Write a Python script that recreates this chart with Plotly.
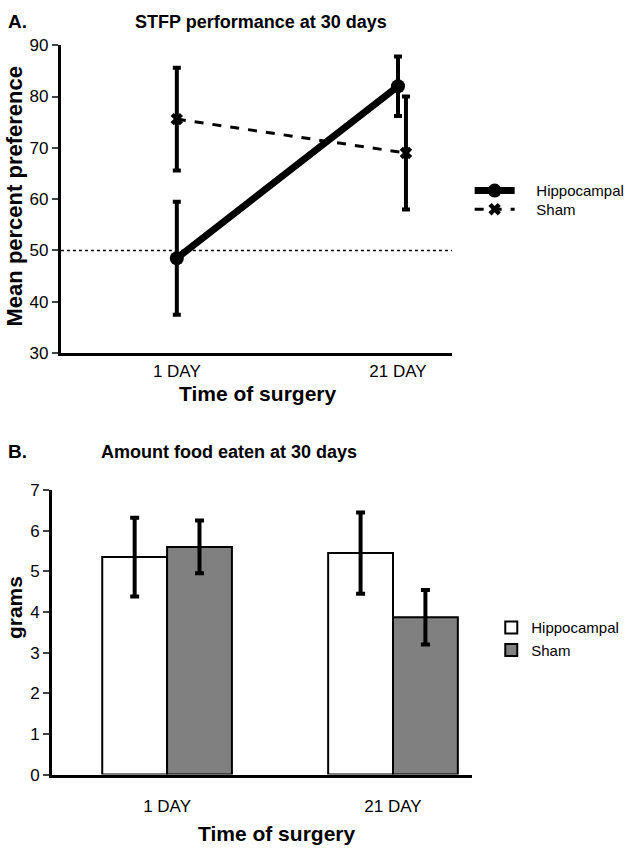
import plotly.graph_objects as go

# ---- data ----
days = ["1 DAY", "21 DAY"]
hipp_pref = [48.5, 82.0]
hipp_pref_err = [11.0, 5.8]
sham_pref = [75.6, 69.0]
sham_pref_err = [10.0, 11.0]
chance_level = 50

hipp_food = [5.35, 5.45]
hipp_food_err = [0.97, 1.0]
sham_food = [5.6, 3.87]
sham_food_err = [0.65, 0.67]

W, H = 630, 853
FONT = "Liberation Sans, Arial, sans-serif"
PAD = "\u00a0" * 4


def px(x):
    return x / W


def py(y):
    return 1 - y / H


pos = list(range(len(days)))
sham_shift = [0.0, 0.036]
sham_pos = [p + s for p, s in zip(pos, sham_shift)]

fig = go.Figure()

# Panel A
fig.add_trace(go.Scatter(
    x=pos, y=hipp_pref, name=PAD + "Hippocampal", mode="lines+markers",
    line=dict(color="black", width=7),
    marker=dict(symbol="circle", size=14, color="black"),
    error_y=dict(type="data", array=hipp_pref_err, color="black", thickness=4, width=4),
    xaxis="x", yaxis="y", legend="legend", showlegend=True,
))
fig.add_trace(go.Scatter(
    x=sham_pos, y=sham_pref, name=PAD + "Sham", mode="lines+markers",
    line=dict(color="black", width=3, dash="dash"),
    marker=dict(symbol="x", size=11, color="black"),
    error_y=dict(type="data", array=sham_pref_err, color="black", thickness=4, width=4),
    xaxis="x", yaxis="y", legend="legend3", showlegend=True,
))

# Panel B
fig.add_trace(go.Bar(
    x=pos, y=hipp_food, name="Hippocampal",
    marker=dict(color="white", line=dict(color="black", width=2)),
    error_y=dict(type="data", array=hipp_food_err, color="black", thickness=4, width=4.5),
    xaxis="x2", yaxis="y2", legend="legend2", showlegend=True,
))
fig.add_trace(go.Bar(
    x=pos, y=sham_food, name="Sham",
    marker=dict(color="#808080", line=dict(color="black", width=2)),
    error_y=dict(type="data", array=sham_food_err, color="black", thickness=4, width=4.5),
    xaxis="x2", yaxis="y2", legend="legend2", showlegend=True,
))

axis_common = dict(showgrid=False, zeroline=False, showline=True, linecolor="black",
                   linewidth=3, tickfont=dict(family=FONT, size=17, color="black"))

legend_common = dict(xanchor="left", yanchor="middle",
                     font=dict(family=FONT, size=15, color="black"),
                     bgcolor="rgba(0,0,0,0)", tracegroupgap=0)

fig.update_layout(
    width=W, height=H, margin=dict(l=0, r=0, t=0, b=0),
    paper_bgcolor="white", plot_bgcolor="white",
    font=dict(family=FONT, color="black"),
    showlegend=True,
    barmode="group", bargap=0.426, bargroupgap=0,
    xaxis=dict(domain=[px(62), px(460)], anchor="y", range=[-0.524, 1.244],
               tickvals=pos, ticktext=days, ticks="", **axis_common),
    yaxis=dict(domain=[py(352), py(37)], anchor="x", range=[30, 90], dtick=10,
               ticks="outside", ticklen=6, tickwidth=2, **axis_common),
    xaxis2=dict(domain=[px(53), px(480)], anchor="y2", range=[-0.509, 1.348],
                tickvals=pos, ticktext=days, ticks="", ticklabelstandoff=14, **axis_common),
    yaxis2=dict(domain=[py(783), py(492)], anchor="x2", range=[0, 7], dtick=1,
                ticks="outside", ticklen=6, tickwidth=2, **axis_common),
    legend=dict(x=px(478), y=py(186), itemwidth=40, **legend_common),
    legend3=dict(x=px(478), y=py(205), itemwidth=40, **legend_common),
    legend2=dict(x=px(500), y=py(644), **legend_common),
    shapes=[dict(type="line", xref="x domain", yref="y", x0=0, x1=1,
                 y0=chance_level, y1=chance_level,
                 line=dict(color="black", width=1.5, dash="dot"))],
)

ann = []


def text(x, y, s, size, bold=True, angle=0, xanchor="center"):
    ann.append(dict(x=px(x), y=py(y), xref="paper", yref="paper", text=f"<b>{s}</b>" if bold else s,
                    showarrow=False, xanchor=xanchor, yanchor="middle", textangle=angle,
                    font=dict(family=FONT, size=size, color="black")))


text(6, 13, "A.", 19, xanchor="left")
text(266, 13, "STFP performance at 30 days", 18)
text(6, 453, "B.", 19, xanchor="left")
text(233, 453, "Amount food eaten at 30 days", 18)
text(15, 192, "Mean percent preference", 22, angle=-90)
text(262, 393, "Time of surgery", 21)
text(15, 612, "grams", 21, angle=-90)
text(281, 843, "Time of surgery", 21)

fig.update_layout(annotations=ann)
fig.write_html("out.html", post_script="document.body.style.margin='0px';",
               config={"displayModeBar": False})
